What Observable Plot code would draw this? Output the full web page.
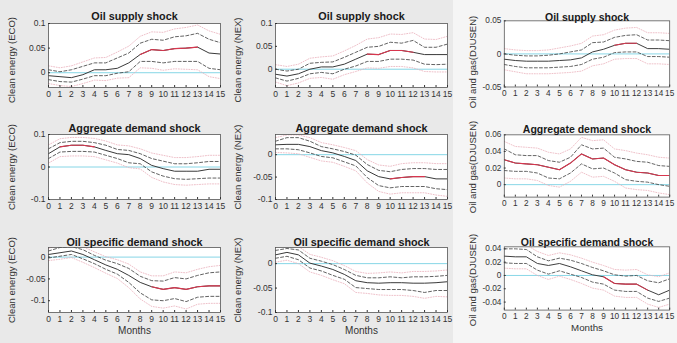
<!DOCTYPE html>
<html><head><meta charset="utf-8">
<script src="https://cdn.jsdelivr.net/npm/d3@7"></script>
<script src="https://cdn.jsdelivr.net/npm/@observablehq/plot@0.6"></script>
<style>
body{margin:0;background:#f5f5f5;}
#fig{position:relative;width:677px;height:343px;overflow:hidden;background:#f5f5f5;font-family:"Liberation Sans",Arial,sans-serif;}
#left{position:absolute;left:0;top:0;width:453px;height:343px;background:#e9e9e9;}
.panel{position:absolute;}
.ylab{position:absolute;white-space:nowrap;font-size:9.5px;line-height:10px;color:#333;transform:translate(-50%,-50%) rotate(-90deg);}
</style></head><body>
<div id="fig"><div id="left"></div></div>
<script>
// ---------- data ----------
const months = [0,1,2,3,4,5,6,7,8,9,10,11,12,13,14,15];
const titles = ["Oil supply shock","Oil supply shock","Oil supply shock",
  "Aggregate demand shock","Aggregate demand shock","Aggregate demand shock",
  "Oil specific demand shock","Oil specific demand shock","Oil specific demand shock"];
const yLabels = ["Clean energy (ECO)","Clean energy (NEX)","Oil and gas(DJUSEN)",
  "Clean energy (ECO)","Clean energy (NEX)","Oil and gas(DJUSEN)",
  "Clean energy (ECO)","Clean energy (NEX)","Oil and gas(DJUSEN)"];
const yDomains = [[-0.03,0.1],[-0.04,0.1],[-0.05,0.05],
  [-0.1,0.1],[-0.1,0.045],[-0.015,0.06],
  [-0.127,0.022],[-0.1,0.033],[-0.052,0.043]];
const yTicks = [[0,0.05,0.1],[0,0.05,0.1],[-0.05,0,0.05],
  [-0.1,0,0.1],[-0.1,-0.05,0],[0,0.02,0.04,0.06],
  [-0.1,-0.05,0],[-0.1,-0.05,0],[-0.04,-0.02,0,0.02,0.04]];
// months where the median response is significant (drawn red)
const sigFrom = [8,8,10,1,10,0,9,null,9];
const sigTo   = [13,12,12,4,13,15,15,null,13];

// Panel 1: ECO, oil supply
const ecoOS_med  = [-0.006,-0.008,-0.010,-0.004,0.006,0.006,0.009,0.020,0.037,0.047,0.045,0.049,0.050,0.052,0.040,0.038];
const ecoOS_hi68 = [0.006,0.002,0.006,0.013,0.020,0.020,0.030,0.040,0.060,0.068,0.066,0.073,0.075,0.080,0.068,0.061];
const ecoOS_lo68 = [-0.014,-0.018,-0.019,-0.013,-0.006,-0.006,-0.001,0.002,0.023,0.023,0.020,0.023,0.023,0.023,0.009,0.006];
const ecoOS_hi90 = [0.014,0.010,0.014,0.022,0.030,0.031,0.042,0.054,0.074,0.083,0.082,0.089,0.092,0.097,0.085,0.078];
const ecoOS_lo90 = [-0.022,-0.026,-0.028,-0.022,-0.015,-0.016,-0.011,-0.010,0.010,0.009,0.005,0.008,0.007,0.006,-0.008,-0.012];
// Panel 2: NEX, oil supply
const nexOS_med  = [-0.011,-0.015,-0.010,0.000,0.005,0.005,0.011,0.022,0.033,0.032,0.041,0.041,0.037,0.032,0.032,0.032];
const nexOS_hi68 = [0.000,-0.004,0.000,0.013,0.015,0.016,0.026,0.037,0.048,0.050,0.059,0.057,0.063,0.048,0.048,0.055];
const nexOS_lo68 = [-0.019,-0.026,-0.020,-0.010,-0.007,-0.010,0.000,0.007,0.017,0.017,0.022,0.022,0.020,0.011,0.010,0.011];
const nexOS_hi90 = [0.010,0.006,0.011,0.024,0.027,0.029,0.040,0.052,0.066,0.069,0.077,0.076,0.080,0.066,0.065,0.072];
const nexOS_lo90 = [-0.028,-0.036,-0.030,-0.020,-0.018,-0.022,-0.012,-0.005,0.003,0.002,0.006,0.006,0.003,-0.005,-0.006,-0.006];
// Panel 3: DJUSEN, oil supply
const djOS_med  = [-0.008,-0.010,-0.011,-0.011,-0.011,-0.010,-0.009,-0.006,0.003,0.007,0.013,0.016,0.016,0.008,0.008,0.007];
const djOS_hi68 = [0.000,-0.002,-0.003,-0.003,-0.002,0.000,0.003,0.006,0.017,0.018,0.025,0.028,0.029,0.021,0.021,0.020];
const djOS_lo68 = [-0.016,-0.019,-0.021,-0.021,-0.021,-0.020,-0.019,-0.016,-0.008,-0.005,0.002,0.003,0.003,-0.004,-0.004,-0.005];
const djOS_hi90 = [0.008,0.006,0.005,0.005,0.006,0.009,0.012,0.016,0.027,0.029,0.036,0.039,0.040,0.032,0.032,0.031];
const djOS_lo90 = [-0.024,-0.027,-0.030,-0.030,-0.030,-0.029,-0.028,-0.026,-0.018,-0.015,-0.008,-0.007,-0.007,-0.015,-0.015,-0.016];
// Panel 4: ECO, aggregate demand
const ecoAD_med  = [0.041,0.062,0.067,0.067,0.062,0.051,0.041,0.038,0.026,0.005,-0.005,-0.013,-0.013,-0.013,-0.007,-0.007];
const ecoAD_hi68 = [0.056,0.075,0.079,0.079,0.075,0.067,0.054,0.051,0.041,0.026,0.018,0.010,0.010,0.013,0.017,0.017];
const ecoAD_lo68 = [0.026,0.046,0.048,0.048,0.046,0.036,0.026,0.013,0.010,-0.015,-0.028,-0.036,-0.038,-0.036,-0.034,-0.034];
const ecoAD_hi90 = [0.068,0.087,0.091,0.091,0.088,0.080,0.068,0.065,0.056,0.043,0.036,0.029,0.029,0.032,0.036,0.036];
const ecoAD_lo90 = [0.012,0.032,0.034,0.034,0.032,0.022,0.012,-0.002,-0.006,-0.032,-0.046,-0.054,-0.056,-0.054,-0.052,-0.052];
// Panel 5: NEX, aggregate demand
const nexAD_med  = [0.022,0.023,0.023,0.018,0.009,0.004,-0.004,-0.013,-0.036,-0.049,-0.054,-0.051,-0.049,-0.049,-0.054,-0.054];
const nexAD_hi68 = [0.030,0.038,0.038,0.030,0.018,0.013,0.007,-0.001,-0.022,-0.035,-0.038,-0.033,-0.031,-0.031,-0.033,-0.033];
const nexAD_lo68 = [0.013,0.013,0.011,0.004,-0.004,-0.007,-0.016,-0.025,-0.051,-0.069,-0.074,-0.071,-0.071,-0.071,-0.076,-0.078];
const nexAD_hi90 = [0.038,0.044,0.044,0.038,0.027,0.022,0.016,0.009,-0.011,-0.023,-0.026,-0.020,-0.018,-0.018,-0.020,-0.020];
const nexAD_lo90 = [0.005,0.004,0.002,-0.006,-0.014,-0.017,-0.026,-0.036,-0.063,-0.082,-0.088,-0.085,-0.085,-0.085,-0.090,-0.093];
// Panel 6: DJUSEN, aggregate demand
const djAD_med  = [0.030,0.026,0.025,0.024,0.021,0.018,0.026,0.037,0.031,0.032,0.024,0.018,0.015,0.014,0.011,0.011];
const djAD_hi68 = [0.043,0.036,0.035,0.035,0.029,0.027,0.033,0.048,0.043,0.044,0.033,0.031,0.028,0.027,0.023,0.022];
const djAD_lo68 = [0.017,0.016,0.016,0.014,0.008,0.007,0.014,0.025,0.019,0.020,0.014,0.006,0.004,0.003,0.000,-0.002];
const djAD_hi90 = [0.052,0.046,0.045,0.044,0.039,0.037,0.043,0.057,0.053,0.054,0.043,0.041,0.038,0.036,0.033,0.032];
const djAD_lo90 = [0.008,0.007,0.007,0.005,-0.001,-0.003,0.004,0.015,0.009,0.010,0.004,-0.004,-0.006,-0.007,-0.010,-0.012];
// Panel 7: ECO, oil specific demand
const ecoSD_med  = [0.006,0.010,0.014,0.006,-0.006,-0.018,-0.028,-0.042,-0.058,-0.068,-0.074,-0.070,-0.074,-0.068,-0.066,-0.066];
const ecoSD_hi68 = [0.014,0.022,0.024,0.017,0.004,-0.007,-0.015,-0.026,-0.044,-0.054,-0.055,-0.047,-0.050,-0.042,-0.036,-0.034];
const ecoSD_lo68 = [-0.002,0.002,0.006,-0.004,-0.015,-0.028,-0.039,-0.058,-0.082,-0.098,-0.100,-0.095,-0.102,-0.092,-0.090,-0.090];
const ecoSD_hi90 = [0.020,0.028,0.030,0.024,0.012,0.001,-0.006,-0.016,-0.034,-0.043,-0.043,-0.034,-0.036,-0.028,-0.022,-0.019];
const ecoSD_lo90 = [-0.008,-0.005,-0.001,-0.012,-0.024,-0.037,-0.049,-0.070,-0.096,-0.113,-0.117,-0.112,-0.119,-0.108,-0.106,-0.106];
// Panel 8: NEX, oil specific demand
const nexSD_med  = [0.018,0.023,0.018,0.001,-0.005,-0.012,-0.022,-0.035,-0.039,-0.040,-0.039,-0.039,-0.040,-0.040,-0.039,-0.037];
const nexSD_hi68 = [0.027,0.031,0.028,0.011,0.005,-0.002,-0.012,-0.024,-0.029,-0.029,-0.027,-0.029,-0.027,-0.027,-0.026,-0.024];
const nexSD_lo68 = [0.011,0.015,0.008,-0.009,-0.015,-0.024,-0.032,-0.049,-0.051,-0.053,-0.053,-0.053,-0.055,-0.059,-0.055,-0.055];
const nexSD_hi90 = [0.034,0.038,0.035,0.019,0.013,0.006,-0.004,-0.016,-0.020,-0.019,-0.017,-0.019,-0.016,-0.016,-0.015,-0.013];
const nexSD_lo90 = [0.003,0.007,0.000,-0.017,-0.024,-0.033,-0.041,-0.059,-0.061,-0.064,-0.065,-0.065,-0.067,-0.071,-0.067,-0.068];
// Panel 9: DJUSEN, oil specific demand
const djSD_med  = [0.029,0.028,0.028,0.018,0.015,0.018,0.013,0.007,0.001,-0.002,-0.012,-0.013,-0.013,-0.022,-0.029,-0.022];
const djSD_hi68 = [0.040,0.040,0.039,0.028,0.022,0.026,0.023,0.018,0.012,0.007,0.001,-0.001,0.000,-0.008,-0.011,-0.005];
const djSD_lo68 = [0.019,0.018,0.018,0.008,0.002,0.007,0.002,-0.003,-0.010,-0.013,-0.022,-0.024,-0.024,-0.034,-0.039,-0.034];
const djSD_hi90 = [0.046,0.047,0.046,0.036,0.030,0.034,0.031,0.026,0.020,0.015,0.009,0.008,0.009,0.001,-0.002,0.004];
const djSD_lo90 = [0.011,0.010,0.010,0.000,-0.006,-0.001,-0.006,-0.012,-0.019,-0.022,-0.031,-0.033,-0.033,-0.043,-0.048,-0.043];

const series = [
  [ecoOS_med,ecoOS_hi68,ecoOS_lo68,ecoOS_hi90,ecoOS_lo90],
  [nexOS_med,nexOS_hi68,nexOS_lo68,nexOS_hi90,nexOS_lo90],
  [djOS_med,djOS_hi68,djOS_lo68,djOS_hi90,djOS_lo90],
  [ecoAD_med,ecoAD_hi68,ecoAD_lo68,ecoAD_hi90,ecoAD_lo90],
  [nexAD_med,nexAD_hi68,nexAD_lo68,nexAD_hi90,nexAD_lo90],
  [djAD_med,djAD_hi68,djAD_lo68,djAD_hi90,djAD_lo90],
  [ecoSD_med,ecoSD_hi68,ecoSD_lo68,ecoSD_hi90,ecoSD_lo90],
  [nexSD_med,nexSD_hi68,nexSD_lo68,nexSD_hi90,nexSD_lo90],
  [djSD_med,djSD_hi68,djSD_lo68,djSD_hi90,djSD_lo90]
];

// ---------- layout ----------
// plot-area boxes: left, top, width, height
const boxes = [
  [48,23,172,64],[275,23,172,64],[505,21,170,68],
  [48,134,172,65],[275,134,172,65],[505,135,170,64],
  [48,247,172,65],[275,247,172,65],[505,247,170,65]
];
const titleDy = [-11,-11,-8,-10,-10,-10,-9,-9,-9];
const ylabX = [12,238,473];
const ylabShift = [5,5,7,0,0,0,0,0,0];
const mL = 44, mR = 8, mT = 24, mB = 30;
const fig = document.getElementById("fig");
const font = '"Liberation Sans", Arial, sans-serif';

series.forEach((s, p) => {
  const [bx, by, bw, bh] = boxes[p];
  const rows = k => months.map((m, i) => ({m, v: s[k][i]}));
  const med = rows(0);
  const marks = [
    Plot.frame({fill: "white", stroke: "none"}),
    Plot.ruleY([0], {stroke: "#86d6e6", strokeWidth: 1}),
    Plot.line(rows(3), {x: "m", y: "v", stroke: "#eab0bb", strokeWidth: 0.8, strokeDasharray: "1,1.6", clip: true}),
    Plot.line(rows(4), {x: "m", y: "v", stroke: "#eab0bb", strokeWidth: 0.8, strokeDasharray: "1,1.6", clip: true}),
    Plot.line(rows(1), {x: "m", y: "v", stroke: "#3a3a3a", strokeWidth: 0.8, strokeDasharray: "3,2.2", clip: true}),
    Plot.line(rows(2), {x: "m", y: "v", stroke: "#3a3a3a", strokeWidth: 0.8, strokeDasharray: "3,2.2", clip: true}),
    Plot.line(med, {x: "m", y: "v", stroke: "#3a3a3a", strokeWidth: 1, clip: true})
  ];
  if (sigFrom[p] !== null) {
    marks.push(Plot.line(med.filter(d => d.m >= sigFrom[p] && d.m <= sigTo[p]),
      {x: "m", y: "v", stroke: "#d8364e", strokeWidth: 1.1, clip: true}));
  }
  marks.push(
    Plot.frame({stroke: "#555", strokeWidth: 0.8}),
    Plot.axisX({ticks: months, tickSize: -2, tickPadding: 5, tickFormat: d => String(d), label: null, fontSize: 8.5, color: "#333"}),
    Plot.axisY({ticks: yTicks[p], tickSize: -2, tickPadding: 5, tickFormat: d => String(d), label: null, fontSize: 8.5, color: "#333"}),
    Plot.text([titles[p]], {frameAnchor: "top", dy: titleDy[p], fontWeight: "bold", fontSize: 10.8, fill: "#1a1a1a"})
  );
  if (p >= 6) {
    marks.push(Plot.text(["Months"], {frameAnchor: "bottom", dy: 21, fontSize: 10, fill: "#333"}));
  }
  const chart = Plot.plot({
    width: bw + mL + mR, height: bh + mT + mB,
    marginLeft: mL, marginRight: mR, marginTop: mT, marginBottom: mB,
    style: {background: "transparent", fontFamily: font, fontSize: "8.5px", color: "#333", overflow: "visible"},
    x: {domain: [0, 15]},
    y: {domain: yDomains[p]},
    marks
  });
  const div = document.createElement("div");
  div.className = "panel";
  div.style.left = (bx - mL) + "px";
  div.style.top = (by - mT) + "px";
  div.appendChild(chart);
  fig.appendChild(div);

  const lab = document.createElement("div");
  lab.className = "ylab";
  lab.textContent = yLabels[p];
  lab.style.left = ylabX[p % 3] + "px";
  lab.style.top = (by + bh / 2 + ylabShift[p]) + "px";
  fig.appendChild(lab);
});
</script>
</body></html>
